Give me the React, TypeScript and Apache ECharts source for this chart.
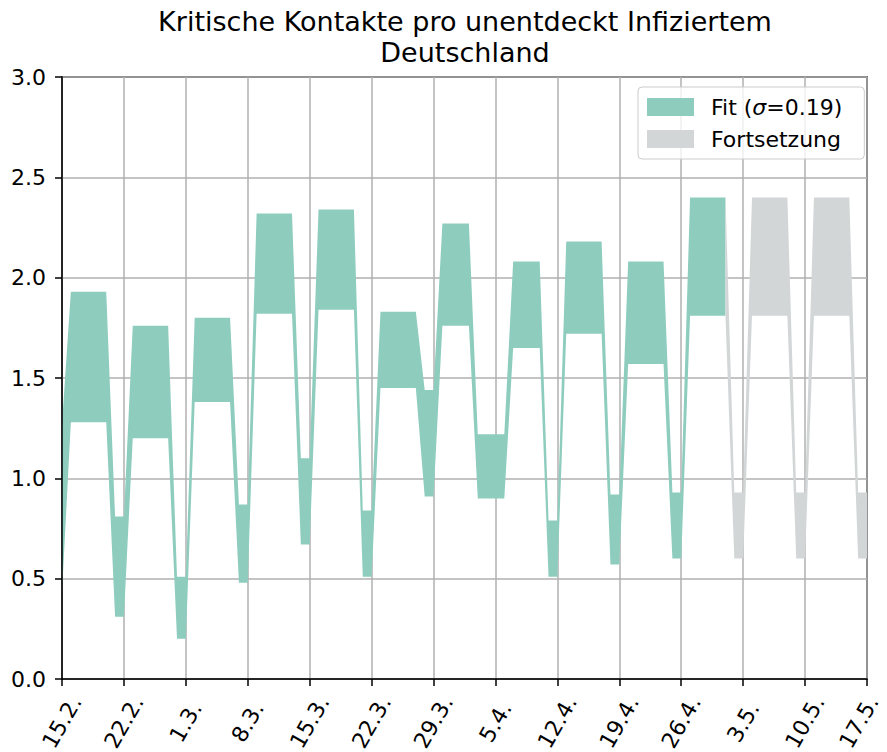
import React, { useEffect, useRef } from 'react';
import * as echarts from 'echarts';

// x tick labels (one every 7 days, day 0 = 15.2.)
const tickLabels = ['15.2.', '22.2.', '1.3.', '8.3.', '15.3.', '22.3.', '29.3.', '5.4.', '12.4.', '19.4.', '26.4.', '3.5.', '10.5.', '17.5.'];

// Fit band, days 0..75
const fitUpper = [
  1.27,
  1.93, 1.93, 1.93, 1.93, 1.93,
  0.81, 0.81,
  1.76, 1.76, 1.76, 1.76, 1.76,
  0.51, 0.51,
  1.80, 1.80, 1.80, 1.80, 1.80,
  0.87, 0.87,
  2.32, 2.32, 2.32, 2.32, 2.32,
  1.10, 1.10,
  2.34, 2.34, 2.34, 2.34, 2.34,
  0.84, 0.84,
  1.83, 1.83, 1.83, 1.83, 1.83,
  1.44, 1.44,
  2.27, 2.27, 2.27, 2.27,
  1.22, 1.22, 1.22, 1.22,
  2.08, 2.08, 2.08, 2.08,
  0.79, 0.79,
  2.18, 2.18, 2.18, 2.18, 2.18,
  0.92, 0.92,
  2.08, 2.08, 2.08, 2.08, 2.08,
  0.93, 0.93,
  2.40, 2.40, 2.40, 2.40, 2.40,
];
const fitLower = [
  0.43,
  1.28, 1.28, 1.28, 1.28, 1.28,
  0.31, 0.31,
  1.20, 1.20, 1.20, 1.20, 1.20,
  0.20, 0.20,
  1.38, 1.38, 1.38, 1.38, 1.38,
  0.48, 0.48,
  1.82, 1.82, 1.82, 1.82, 1.82,
  0.67, 0.67,
  1.84, 1.84, 1.84, 1.84, 1.84,
  0.51, 0.51,
  1.45, 1.45, 1.45, 1.45, 1.45,
  0.91, 0.91,
  1.76, 1.76, 1.76, 1.76,
  0.90, 0.90, 0.90, 0.90,
  1.65, 1.65, 1.65, 1.65,
  0.51, 0.51,
  1.72, 1.72, 1.72, 1.72, 1.72,
  0.57, 0.57,
  1.57, 1.57, 1.57, 1.57, 1.57,
  0.60, 0.60,
  1.81, 1.81, 1.81, 1.81, 1.81,
];

// Continuation band, days 75..91
const contStart = 75;
const contUpper = [
  2.40,
  0.93, 0.93,
  2.40, 2.40, 2.40, 2.40, 2.40,
  0.93, 0.93,
  2.40, 2.40, 2.40, 2.40, 2.40,
  0.93, 0.93,
];
const contLower = [
  1.81,
  0.60, 0.60,
  1.81, 1.81, 1.81, 1.81, 1.81,
  0.60, 0.60,
  1.81, 1.81, 1.81, 1.81, 1.81,
  0.60, 0.60,
];

const NUM_DAYS = 92;
const FIT = 'Fit (σ=0.19)';
const CONT = 'Fortsetzung';
const GREEN = '#8ecdbe';
const GRAY = '#d2d6d7';
const FONT = 'DejaVu Sans';

export default function App() {
  const ref = useRef<HTMLDivElement>(null);

  useEffect(() => {
    if (!ref.current) return;
    const chart = echarts.init(ref.current, undefined, { renderer: 'svg' });

    const days = Array.from({ length: NUM_DAYS }, (_, i) => String(i));
    const fitBase = days.map((_, i) => (i < fitLower.length ? fitLower[i] : null));
    const fitDiff = days.map((_, i) => (i < fitUpper.length ? +(fitUpper[i] - fitLower[i]).toFixed(4) : null));
    const contBase = days.map((_, i) => {
      const j = i - contStart;
      return j >= 0 && j < contLower.length ? contLower[j] : null;
    });
    const contDiff = days.map((_, i) => {
      const j = i - contStart;
      return j >= 0 && j < contUpper.length ? +(contUpper[j] - contLower[j]).toFixed(4) : null;
    });

    const every7 = (index: number) => index % 7 === 0;
    const lastTickIndex = (tickLabels.length - 1) * 7;

    const option: any = {
      animation: false,
      backgroundColor: '#ffffff',
      textStyle: { fontFamily: FONT },
      grid: {
        left: 62, right: 20, top: 77, bottom: 73,
        containLabel: false,
        outerBoundsMode: 'none',
        show: true, borderColor: '#000000', borderWidth: 1.5, backgroundColor: 'transparent',
      },
      graphic: [
        {
          type: 'text',
          x: 465,
          y: 6,
          style: {
            text: 'Kritische Kontakte pro unentdeckt Infiziertem\nDeutschland',
            font: `27px "${FONT}"`,
            fill: '#000000',
            align: 'center',
            verticalAlign: 'top',
            lineHeight: 31,
          },
        },
      ],
      legend: {
        data: [
          { name: FIT, icon: 'rect' },
          { name: CONT, icon: 'rect' },
        ],
        orient: 'vertical',
        left: 638,
        top: 87,
        itemWidth: 47,
        itemHeight: 18,
        itemGap: 10,
        padding: [9, 22, 9, 9],
        backgroundColor: 'rgba(255,255,255,0.8)',
        borderColor: '#cccccc',
        borderWidth: 1,
        borderRadius: 4,
        selectedMode: false,
        z: 10,
        itemStyle: { borderWidth: 0 },
        formatter: (name: string) => (name === FIT ? 'Fit ({i|σ}=0.19)' : name),
        textStyle: {
          fontFamily: FONT,
          fontSize: 22,
          color: '#000000',
          padding: [0, 0, 0, 12],
          rich: {
            i: { fontFamily: FONT, fontSize: 22, fontStyle: 'italic', color: '#000000' },
          },
        },
      },
      xAxis: {
        type: 'category',
        data: days,
        boundaryGap: false,
        z: 3,
        axisLine: { show: true, lineStyle: { color: '#000000', width: 1.5 } },
        axisTick: { show: true, interval: every7, length: 7, lineStyle: { color: '#000000', width: 1.5 } },
        splitLine: { show: true, interval: every7, lineStyle: { color: '#b0b0b0', width: 1.5 } },
        axisLabel: {
          interval: every7,
          rotate: 60,
          align: 'center',
          verticalAlign: 'middle',
          margin: 43,
          hideOverlap: false,
          fontFamily: FONT,
          fontSize: 22,
          color: '#000000',
          formatter: (_v: string, index: number) => {
            const label = tickLabels[Math.round(index / 7)] ?? '';
            return index === lastTickIndex ? `{e|${label}}` : label;
          },
          rich: {
            e: { fontFamily: FONT, fontSize: 22, color: '#000000', padding: [0, 8, 14, 0] },
          },
        },
      },
      yAxis: {
        type: 'value',
        min: 0,
        max: 3,
        interval: 0.5,
        z: 3,
        axisLine: { show: true, lineStyle: { color: '#000000', width: 1.5 } },
        axisTick: { show: true, length: 7, lineStyle: { color: '#000000', width: 1.5 } },
        splitLine: { show: true, lineStyle: { color: '#b0b0b0', width: 1.5 } },
        axisLabel: {
          margin: 16,
          fontFamily: FONT,
          fontSize: 22,
          color: '#000000',
          formatter: (v: number) => v.toFixed(1),
        },
      },
      series: [
        {
          type: 'line', name: 'fitBase', stack: 'fit', data: fitBase,
          symbol: 'none', silent: true, lineStyle: { width: 0, opacity: 0 }, connectNulls: false,
        },
        {
          type: 'line', name: FIT, stack: 'fit', data: fitDiff, color: GREEN,
          symbol: 'none', silent: true, lineStyle: { width: 0, opacity: 0 },
          itemStyle: { color: GREEN }, areaStyle: { color: GREEN, opacity: 1 }, connectNulls: false,
        },
        {
          type: 'line', name: 'contBase', stack: 'cont', data: contBase,
          symbol: 'none', silent: true, lineStyle: { width: 0, opacity: 0 }, connectNulls: false,
        },
        {
          type: 'line', name: CONT, stack: 'cont', data: contDiff, color: GRAY,
          symbol: 'none', silent: true, lineStyle: { width: 0, opacity: 0 },
          itemStyle: { color: GRAY }, areaStyle: { color: GRAY, opacity: 1 }, connectNulls: false,
        },
      ],
    };

    chart.setOption(option);
    return () => chart.dispose();
  }, []);

  return (
    <div
      ref={ref}
      style={{ position: 'fixed', left: 0, top: 0, width: 887, height: 752, background: '#ffffff' }}
    />
  );
}
